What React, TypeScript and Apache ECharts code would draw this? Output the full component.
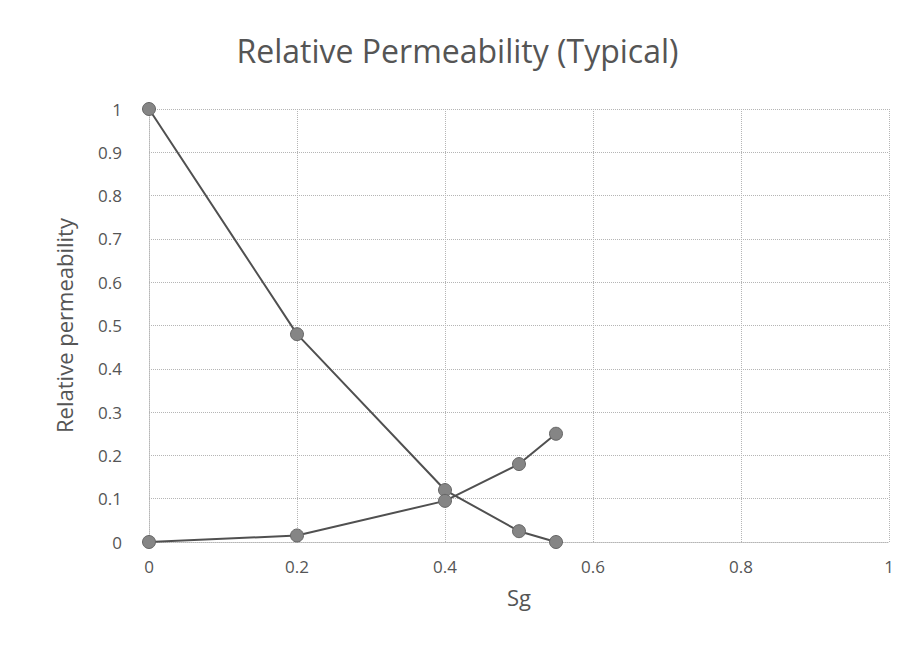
import React, { useEffect, useRef } from "react";
import * as echarts from "echarts";

// Gas saturation points shared by both curves
const sg = [0, 0.2, 0.4, 0.5, 0.55];
// Decreasing curve (liquid relative permeability)
const krl = [1, 0.48, 0.12, 0.025, 0];
// Increasing curve (gas relative permeability)
const krg = [0, 0.015, 0.095, 0.18, 0.25];

const xTicks = [0, 0.2, 0.4, 0.6, 0.8, 1];
const yTicks = [0, 0.1, 0.2, 0.3, 0.4, 0.5, 0.6, 0.7, 0.8, 0.9, 1];

const font = "'Open Sans', sans-serif";
const textGray = "#555";
const gridGray = "#b5b5b5";

export default function App() {
  const ref = useRef<HTMLDivElement>(null);

  useEffect(() => {
    if (!ref.current) return;
    const chart = echarts.init(ref.current, null, { renderer: "svg" });
    const pair = (ys: number[]) => sg.map((x, i) => [x, ys[i]]);
    const seriesStyle = {
      type: "line" as const,
      symbol: "circle",
      symbolSize: 13,
      lineStyle: { color: "#505050", width: 2 },
      itemStyle: { color: "#858585", borderColor: "#666", borderWidth: 1 },
    };
    chart.setOption({
      animation: false,
      backgroundColor: "#fff",
      title: {
        text: "Relative Permeability (Typical)",
        left: "center",
        top: 29,
        textStyle: { fontFamily: font, fontSize: 32, fontWeight: "normal", color: textGray },
      },
      grid: { left: 149, right: 26, top: 109, bottom: 129 },
      xAxis: {
        type: "value",
        min: 0,
        max: 1,
        interval: 0.2,
        name: "Sg",
        nameLocation: "middle",
        nameGap: 44,
        nameTextStyle: { fontFamily: font, fontSize: 22, color: textGray },
        axisLine: { show: true, lineStyle: { color: gridGray, type: "dotted" } },
        axisTick: { show: false },
        axisLabel: {
          margin: 16,
          fontFamily: font,
          fontSize: 17,
          color: textGray,
          formatter: (v: number) => (xTicks.includes(+v.toFixed(1)) ? String(+v.toFixed(1)) : ""),
        },
        splitLine: { show: true, lineStyle: { color: gridGray, type: "dotted" } },
      },
      yAxis: {
        type: "value",
        min: 0,
        max: 1,
        interval: 0.1,
        name: "Relative permeability",
        nameLocation: "middle",
        nameGap: 74,
        nameTextStyle: { fontFamily: font, fontSize: 22, color: textGray },
        axisLine: { show: true, lineStyle: { color: gridGray, type: "dotted" } },
        axisTick: { show: false },
        axisLabel: {
          margin: 27,
          fontFamily: font,
          fontSize: 17,
          color: textGray,
          formatter: (v: number) => {
            const r = +v.toFixed(1);
            return yTicks.includes(r) ? String(r) : "";
          },
        },
        splitLine: { show: true, lineStyle: { color: gridGray, type: "dotted" } },
      },
      graphic: [
        {
          type: "rect",
          shape: { x: 4, y: 3, width: 940, height: 700 },
          style: { fill: "none", stroke: "#b0b0b0", lineWidth: 1, lineDash: [1, 2] },
          silent: true,
        },
      ],
      series: [
        { ...seriesStyle, name: "krl", data: pair(krl) },
        { ...seriesStyle, name: "krg", data: pair(krg) },
      ],
    });
    return () => chart.dispose();
  }, []);

  return <div ref={ref} style={{ width: 915, height: 671, margin: -8 }} />;
}
